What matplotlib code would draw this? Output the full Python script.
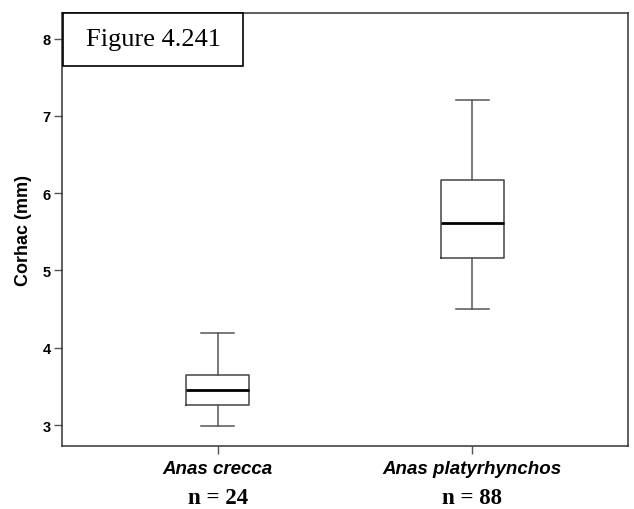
import matplotlib
matplotlib.use("Agg")
import matplotlib.pyplot as plt
from matplotlib.patches import Rectangle
from matplotlib.transforms import blended_transform_factory

# values
species = ["Anas crecca", "Anas platyrhynchos"]
counts = [24, 88]
whis_lo = [2.99, 4.50]
q1 = [3.26, 5.16]
median = [3.46, 5.62]
q3 = [3.65, 6.17]
whis_hi = [4.19, 7.20]
yticks = [3, 4, 5, 6, 7, 8]

stats = []
for name, lo, a, m, b, hi in zip(species, whis_lo, q1, median, q3, whis_hi):
    stats.append(dict(label=name, whislo=lo, q1=a, med=m, q3=b, whishi=hi, fliers=[]))

fig = plt.figure(figsize=(6.34, 5.10), dpi=100)
ax = fig.add_axes([62 / 634, 63 / 510, 566 / 634, 433 / 510])

positions = [1, 2]
ax.bxp(stats, positions=positions, widths=0.25, showfliers=False,
       boxprops=dict(color="#444444", linewidth=1.1),
       whiskerprops=dict(color="#555555", linewidth=1.1),
       capprops=dict(color="#555555", linewidth=1.1),
       medianprops=dict(color="black", linewidth=2.0),
       capwidths=0.13)

ax.set_xlim(0.389, 2.611)
ax.set_ylim(2.73, 8.33)
ax.set_yticks(yticks)
ax.set_yticklabels([str(t) for t in yticks], fontsize=10.5, fontweight="bold",
                   family="Liberation Sans")
ax.set_xticks(positions)
ax.set_xticklabels([])
ax.tick_params(axis="both", direction="out", length=6, width=1, color="#555555", pad=2)

for s in ax.spines.values():
    s.set_color("#333333")
    s.set_linewidth(1.1)

ax.set_ylabel("Corhac (mm)", fontsize=13, fontweight="bold",
              family="Liberation Sans", labelpad=8)

trans = blended_transform_factory(ax.transData, ax.transAxes)
for pos, name, n in zip(positions, species, counts):
    ax.text(pos, -0.053, name, transform=trans, ha="center", va="center",
            fontsize=13.5, fontweight="bold", style="italic", family="Liberation Sans")
    ax.text(pos, -0.12, f"n = {n}", transform=trans, ha="center", va="center",
            fontsize=16.5, fontweight="bold", family="Liberation Serif")

# the figure number box in the top-left corner
ax.add_patch(Rectangle((0.0018, 0.8776), 0.318, 0.1224, transform=ax.transAxes,
                       facecolor="white", edgecolor="black", linewidth=1.2,
                       clip_on=False, zorder=5))
ax.text(0.161, 0.939, "Figure 4.241", transform=ax.transAxes, ha="center", va="center",
        fontsize=19, family="Liberation Serif", zorder=6)

fig.savefig("out.png", dpi=100)
